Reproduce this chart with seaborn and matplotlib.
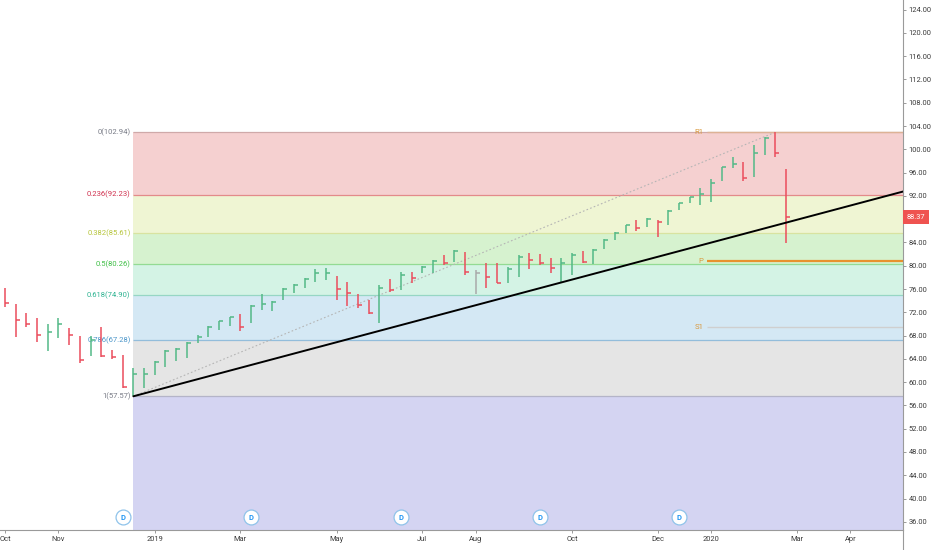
import matplotlib
matplotlib.use("Agg")
import matplotlib.dates as mdates
import matplotlib.lines as mlines
import matplotlib.pyplot as plt
import matplotlib.transforms as mtransforms
import pandas as pd
import seaborn as sns

# weekly HLC bars, first bar is the week of 2018-10-01
FIRST_WEEK = "2018-10-01"
HIGH = [76.2, 73.4, 71.9, 71.0, 70.0, 71.0, 69.3, 67.9, 67.9, 69.5, 65.5, 64.7,
        62.4, 62.4, 63.6, 65.5, 65.9, 66.9, 68.1, 69.6, 70.5, 71.2, 71.7, 73.2,
        75.1, 73.9, 76.2, 76.9, 77.9, 79.4, 79.6, 78.2, 77.2, 75.1, 74.1, 76.7,
        77.7, 78.9, 78.9, 79.9, 81.0, 81.8, 82.7, 82.4, 79.3, 80.5, 80.5, 79.8,
        81.8, 82.2, 82.0, 81.3, 81.3, 82.2, 82.5, 82.9, 84.6, 85.8, 87.0, 87.8,
        88.2, 87.8, 89.6, 90.8, 91.8, 93.3, 94.9, 97.0, 98.7, 97.8, 100.7, 102.1,
        102.94, 96.6]
LOW = [72.9, 67.7, 69.5, 66.9, 65.3, 67.6, 66.4, 63.3, 64.5, 64.3, 64.0, 59.0,
       57.57, 59.0, 61.2, 62.6, 63.6, 64.1, 66.7, 67.7, 69.0, 69.6, 68.8, 70.2,
       72.4, 72.2, 74.1, 75.3, 76.2, 77.2, 77.5, 74.1, 73.1, 72.7, 71.7, 70.2,
       75.5, 75.8, 77.0, 78.7, 78.7, 80.1, 80.6, 78.4, 75.1, 76.2, 77.0, 77.0,
       78.1, 79.5, 80.1, 78.7, 77.2, 78.4, 80.5, 80.3, 82.9, 84.4, 85.6, 86.0,
       86.6, 84.9, 87.0, 89.6, 90.8, 90.4, 90.9, 94.5, 96.8, 94.5, 95.2, 99.0,
       98.7, 83.9]
CLOSE = [73.6, 70.7, 70.0, 68.1, 68.6, 70.0, 68.1, 63.8, 67.2, 64.5, 64.3, 59.2,
         61.4, 61.4, 63.4, 65.3, 65.7, 66.7, 67.8, 69.5, 70.5, 71.2, 69.5, 73.1,
         73.4, 73.8, 76.0, 76.7, 77.7, 78.7, 78.7, 76.0, 75.3, 73.2, 71.9, 76.2,
         75.8, 78.4, 77.9, 79.8, 80.8, 80.5, 82.5, 78.9, 78.7, 78.1, 77.0, 79.4,
         81.5, 81.0, 80.5, 79.6, 80.5, 81.8, 80.6, 82.7, 84.4, 85.6, 87.0, 86.5,
         88.0, 87.5, 89.4, 90.8, 91.8, 92.3, 94.2, 97.0, 97.5, 95.1, 99.4, 101.9,
         99.4, 88.37]
# u = up week, d = down week, n = unchanged
DIRECTION = ["d", "d", "d", "d", "u", "u", "d", "d", "u", "d", "d", "d",
             "u", "u", "u", "u", "u", "u", "u", "u", "u", "u", "d", "u",
             "u", "u", "u", "u", "u", "u", "u", "d", "d", "d", "d", "u",
             "d", "u", "d", "u", "u", "d", "u", "d", "n", "d", "d", "u",
             "u", "d", "d", "d", "u", "u", "d", "u", "u", "u", "u", "d",
             "u", "d", "u", "u", "u", "u", "u", "u", "u", "d", "u", "u",
             "d", "d"]

FIB_HIGH = 102.94
FIB_LOW = 57.57
FIB_START = "2018-12-24"
FIB_END = "2020-02-17"
FIB_RATIOS = [0, 0.236, 0.382, 0.5, 0.618, 0.786, 1, 1.618]
FIB_FILLS = ["#f5d0d0", "#eff5d3", "#d6f2cf", "#d4f3e5", "#d4e8f4", "#e5e5e5", "#d4d4f2"]
FIB_LINES = ["#cfa9a9", "#e38a8a", "#d8e3a0", "#93db93", "#96d6c4", "#93bddb", "#b4b4c8"]
FIB_TEXT = ["#787b86", "#d0304e", "#b6c53a", "#3fbf46", "#2db391", "#4a95c9", "#787b86"]

TREND_START = ("2018-12-24", 57.57)
TREND_POINT = ("2020-02-24", 87.4)

PIVOT_NAMES = ["R1", "P", "S1"]
PIVOT_VALUES = [102.95, 80.85, 69.5]
PIVOT_COLORS = ["#ddb295", "#e8922e", "#cfcfcf"]
PIVOT_START = "2020-01-03"

DIV_DATES = ["2018-12-17", "2019-03-11", "2019-06-17", "2019-09-16", "2019-12-16"]

TICK_DATES = ["2018-10-01", "2018-11-05", "2019-01-07", "2019-03-04", "2019-05-06",
              "2019-07-01", "2019-08-05", "2019-10-07", "2019-12-02", "2020-01-06",
              "2020-03-02", "2020-04-06"]
TICK_LABELS = ["Oct", "Nov", "2019", "Mar", "May", "Jul", "Aug", "Oct", "Dec", "2020",
               "Mar", "Apr"]
PRICE_TICKS = list(range(36, 125, 4))
LAST_PRICE = 88.37

X_LEFT = pd.Timestamp("2018-09-27 18:00")
X_RIGHT = pd.Timestamp("2020-05-10 12:00")
UP, DOWN, FLAT = "#53b987", "#eb4d5c", "#a9a9a9"

sns.set_theme(style="white")
plt.rcParams["font.family"] = ["Roboto", "DejaVu Sans"]

fig = plt.figure(figsize=(9.32, 5.5), dpi=100)
ax = fig.add_axes([0, 20 / 550, 903 / 932, 530 / 550])
ax.set_facecolor("white")

weeks = pd.date_range(FIRST_WEEK, periods=len(CLOSE), freq="7D")
bars = pd.DataFrame({"week": weeks, "high": HIGH, "low": LOW, "close": CLOSE,
                     "dir": DIRECTION})
colors = bars["dir"].map({"u": UP, "d": DOWN, "n": FLAT}).tolist()

fib_start = pd.Timestamp(FIB_START)
levels = [FIB_HIGH - r * (FIB_HIGH - FIB_LOW) for r in FIB_RATIOS]

# retracement zones, extended to the right edge
for i in range(len(levels) - 1):
    ax.fill_between([fib_start, X_RIGHT], levels[i + 1], levels[i],
                    color=FIB_FILLS[i], lw=0, zorder=0)
for i, (r, lv) in enumerate(zip(FIB_RATIOS[:-1], levels[:-1])):
    ax.hlines(lv, fib_start, X_RIGHT, color=FIB_LINES[i], lw=0.9, zorder=1)
    ax.annotate(f"{r:g}({lv + 1e-9:.2f})", xy=(fib_start, lv), xytext=(-2, 0),
                textcoords="offset points", ha="right", va="center",
                fontsize=5.5, color=FIB_TEXT[i])

diag = pd.DataFrame({"x": pd.to_datetime([FIB_START, FIB_END]), "y": [FIB_LOW, FIB_HIGH]})
sns.lineplot(data=diag, x="x", y="y", ax=ax, color="#b5b5b5", lw=0.8,
             linestyle=(0, (1.5, 2)), zorder=2)

# pivot levels
piv_start = pd.Timestamp(PIVOT_START)
for name, val, c in zip(PIVOT_NAMES, PIVOT_VALUES, PIVOT_COLORS):
    ax.hlines(val, piv_start, X_RIGHT, color=c, lw=1.6 if name == "P" else 1.0, zorder=2)
    ax.annotate(name, xy=(piv_start, val), xytext=(-2.5, 0), textcoords="offset points",
                ha="right", va="center", fontsize=5.6, color="#d9983c")

# HLC bars
tick_len = pd.Timedelta(days=2.6)
ax.vlines(bars["week"], bars["low"], bars["high"], colors=colors, lw=1.1, zorder=3)
ax.hlines(bars["close"], bars["week"], bars["week"] + tick_len, colors=colors, lw=1.1,
          zorder=3)

# trend line from the December low, extended right
t0 = mdates.date2num(pd.Timestamp(TREND_START[0]))
t1 = mdates.date2num(pd.Timestamp(TREND_POINT[0]))
slope = (TREND_POINT[1] - TREND_START[1]) / (t1 - t0)
t_end = mdates.date2num(X_RIGHT)
trend = pd.DataFrame({"x": pd.to_datetime(mdates.num2date([t0, t_end])).tz_localize(None),
                      "y": [TREND_START[1], TREND_START[1] + slope * (t_end - t0)]})
sns.lineplot(data=trend, x="x", y="y", ax=ax, color="black", lw=1.4, zorder=4)

# dividend markers
bottom = mtransforms.blended_transform_factory(ax.transData, ax.transAxes)
div_x = pd.to_datetime(DIV_DATES)
ax.scatter(div_x, [0.0245] * len(div_x), transform=bottom, s=115, facecolor="white",
           edgecolor="#8fc3ea", lw=0.9, zorder=5, clip_on=False)
for d in div_x:
    ax.text(d, 0.0245, "D", transform=bottom, ha="center", va="center", fontsize=5.5,
            color="#2196f3", fontweight="bold", zorder=6)

ax.set_xlim(X_LEFT, X_RIGHT)
ax.set_ylim(34.6, 125.65)
ax.set_xlabel("")
ax.set_ylabel("")

# the last-price tag sits where 88.00 would be, so that label is left blank
ax.yaxis.tick_right()
ax.set_yticks(PRICE_TICKS)
ax.set_yticklabels(["" if v == 88 else f"{v:.2f}" for v in PRICE_TICKS])
ax.set_xticks(pd.to_datetime(TICK_DATES))
ax.set_xticklabels(TICK_LABELS)
ax.tick_params(axis="y", which="both", right=True, length=2.5, width=0.6, pad=1.5,
               color="#8a8a8a", labelsize=5.4, labelcolor="#3c3c3c")
ax.tick_params(axis="x", which="both", bottom=True, length=2, width=0.6, pad=2,
               color="#8a8a8a", labelsize=5.4, labelcolor="#3c3c3c")
for side in ("top", "left"):
    ax.spines[side].set_visible(False)
for side in ("right", "bottom"):
    ax.spines[side].set_color("#9a9a9a")
    ax.spines[side].set_linewidth(0.8)

# price scale border continues down past the time scale
fig.add_artist(mlines.Line2D([903 / 932, 903 / 932], [0, 20 / 550], color="#9a9a9a",
                             lw=0.8, transform=fig.transFigure))

right = mtransforms.blended_transform_factory(ax.transAxes, ax.transData)
ax.text(1.004, LAST_PRICE, f"{LAST_PRICE:.2f}", transform=right, ha="left", va="center",
        fontsize=5.4, color="white", zorder=10, clip_on=False,
        bbox=dict(boxstyle="square,pad=0.45", fc="#ef5350", ec="none"))

fig.savefig("out.png", dpi=100)
